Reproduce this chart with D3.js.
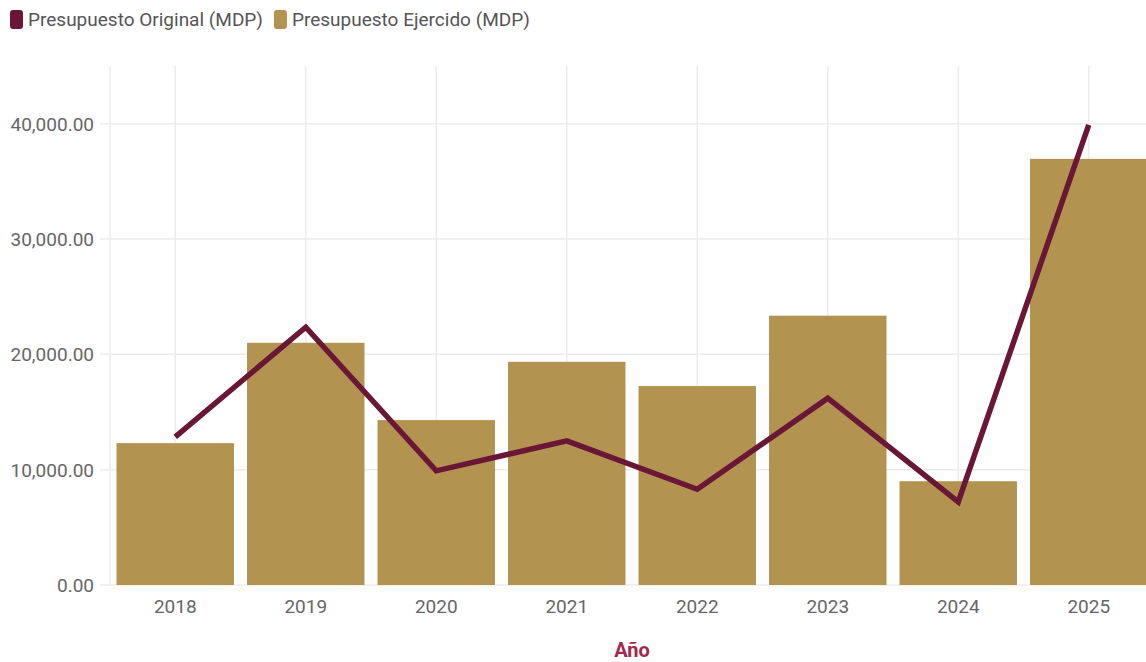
<!DOCTYPE html>
<html>
<head>
<meta charset="utf-8">
<script src="https://cdn.jsdelivr.net/npm/d3@7"></script>
<style>
  body { margin: 0; background: #fff; }
  text { font-family: Roboto, "Liberation Sans", sans-serif; }
</style>
</head>
<body>
<svg id="chart" width="1146" height="662"></svg>
<script>
// values
var years = ['2018', '2019', '2020', '2021', '2022', '2023', '2024', '2025'];
var ejercido = [12300, 21000, 14300, 19350, 17250, 23350, 9000, 36950];
var original = [12850, 22350, 9900, 12500, 8300, 16200, 7200, 39900];
var yTicks = [0, 10000, 20000, 30000, 40000];
var seriesNames = ['Presupuesto Original (MDP)', 'Presupuesto Ejercido (MDP)'];

var colorLine = '#6a1737',
    colorBar = '#b39350';

var margin = { top: 66, right: -8, bottom: 77, left: 110 },
    width = 1146,
    height = 662;

var svg = d3.select('#chart');
var chartW = width - margin.left - margin.right,
    chartH = height - margin.top - margin.bottom;

var x = d3.scaleBand().domain(years).range([0, chartW]).paddingInner(0.1).paddingOuter(0.05);
var y = d3.scaleLinear().domain([0, 45000]).range([chartH, 0]);

var g = svg.append('g').attr('transform', 'translate(' + margin.left + ',' + margin.top + ')');

// grid
g.append('g').selectAll('line.h')
  .data(yTicks)
  .enter().append('line')
    .attr('x1', -10).attr('x2', chartW)
    .attr('y1', function(d) { return y(d); })
    .attr('y2', function(d) { return y(d); })
    .attr('stroke', '#ececec').attr('stroke-width', 1.5);

g.append('g').selectAll('line.v')
  .data(years)
  .enter().append('line')
    .attr('x1', function(d) { return x(d) + x.bandwidth() / 2; })
    .attr('x2', function(d) { return x(d) + x.bandwidth() / 2; })
    .attr('y1', 0).attr('y2', chartH)
    .attr('stroke', '#ececec').attr('stroke-width', 1.5);

g.append('line')
  .attr('x1', 0).attr('x2', 0).attr('y1', 0).attr('y2', chartH)
  .attr('stroke', '#ececec').attr('stroke-width', 1.5);

// bars
g.append('g').selectAll('rect')
  .data(years)
  .enter().append('rect')
    .attr('x', function(d) { return x(d); })
    .attr('width', x.bandwidth())
    .attr('y', function(d, i) { return y(ejercido[i]); })
    .attr('height', function(d, i) { return chartH - y(ejercido[i]); })
    .attr('fill', colorBar);

// line
var line = d3.line()
  .x(function(d, i) { return x(years[i]) + x.bandwidth() / 2; })
  .y(function(d) { return y(d); });

g.append('path')
  .datum(original)
  .attr('d', line)
  .attr('fill', 'none')
  .attr('stroke', colorLine)
  .attr('stroke-width', 5.5)
  .attr('stroke-linejoin', 'miter');

// axes
var yAxis = d3.axisLeft(y).tickValues(yTicks).tickSize(0).tickPadding(16)
  .tickFormat(d3.format(',.2f'));
var yg = g.append('g').call(yAxis);
yg.select('.domain').remove();
yg.selectAll('text').attr('font-size', 19).attr('fill', '#666').attr('dy', '0.35em');

var xAxis = d3.axisBottom(x).tickSize(0).tickPadding(15);
var xg = g.append('g').attr('transform', 'translate(0,' + chartH + ')').call(xAxis);
xg.select('.domain').remove();
xg.selectAll('text').attr('font-size', 19).attr('fill', '#666');

svg.append('text')
  .attr('x', 632).attr('y', 657)
  .attr('text-anchor', 'middle')
  .attr('font-size', 20).attr('font-weight', 'bold')
  .attr('fill', '#a3284c')
  .text('Año');

// legend
var legend = svg.append('g').attr('transform', 'translate(10,10)');
var lx = 0;
seriesNames.forEach(function(name, i) {
  var item = legend.append('g').attr('transform', 'translate(' + lx + ',0)');
  item.append('rect')
    .attr('width', 13).attr('height', 19).attr('rx', 3)
    .attr('fill', i === 0 ? colorLine : colorBar);
  var t = item.append('text')
    .attr('x', 18).attr('y', 16)
    .attr('font-size', 19).attr('fill', '#555')
    .text(name);
  lx += 18 + t.node().getComputedTextLength() + 11;
});
</script>
</body>
</html>
